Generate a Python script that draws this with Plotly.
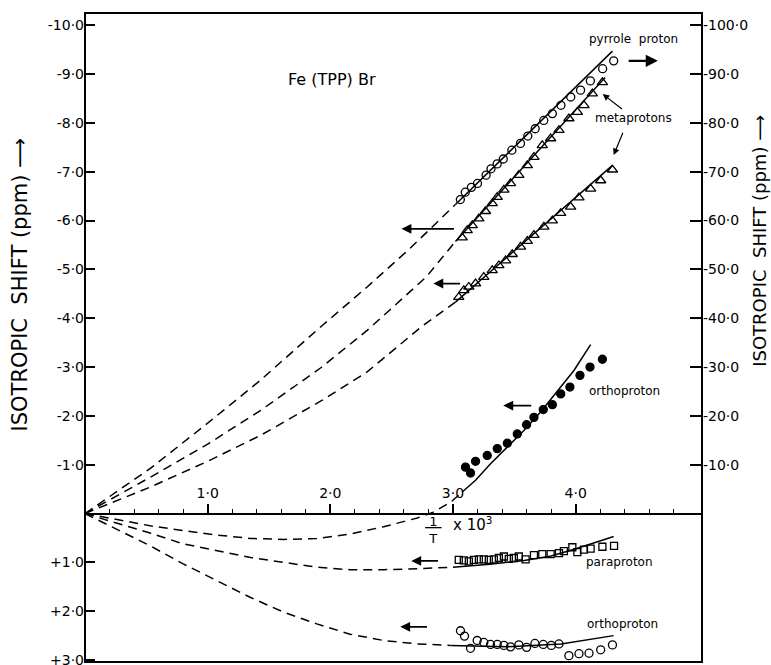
import plotly.graph_objects as go

# ---------------- data (x = 1/T x 10^3) ----------------
# pyrrole proton (right axis, ppm)
pyrrole_x = [3.06, 3.10, 3.15, 3.20, 3.27, 3.31, 3.36, 3.41, 3.48, 3.55,
             3.61, 3.67, 3.74, 3.81, 3.88, 3.96, 4.04, 4.12, 4.22, 4.31]
pyrrole_y = [-64.3, -65.8, -66.8, -67.6, -69.3, -70.6, -71.6, -72.6, -74.4, -75.8,
             -77.3, -78.8, -80.5, -81.9, -83.6, -85.3, -86.7, -88.6, -91.1, -92.7]
pyrrole_fit_x = [3.02, 4.30]
pyrrole_fit_y = [-63.3, -94.7]
pyrrole_ext_x = [0.0, 0.53, 1.0, 1.43, 1.92, 2.30, 2.65, 3.02]
pyrrole_ext_y = [0.0, -9.2, -18.5, -27.3, -38.2, -46.4, -54.3, -63.3]

# metaprotons, first set (left axis, ppm)
meta1_x = [3.075, 3.116, 3.157, 3.211, 3.265, 3.320, 3.361, 3.415, 3.469, 3.537,
           3.606, 3.660, 3.728, 3.796, 3.864, 3.945, 4.014, 4.068, 4.136, 4.218]
meta1_y = [-5.65, -5.80, -5.90, -6.04, -6.19, -6.35, -6.48, -6.63, -6.76, -6.93,
           -7.13, -7.30, -7.54, -7.68, -7.85, -8.09, -8.22, -8.36, -8.60, -8.83]
meta1_fit_x = [3.02, 4.24]
meta1_fit_y = [-5.57, -8.93]
meta1_ext_x = [0.0, 0.53, 1.0, 1.43, 1.92, 2.30, 2.78, 3.02]
meta1_ext_y = [0.0, -0.74, -1.42, -2.11, -2.98, -3.75, -4.84, -5.57]

# metaprotons, second set (left axis, ppm)
meta2_x = [3.047, 3.088, 3.129, 3.184, 3.251, 3.320, 3.374, 3.429, 3.483, 3.551,
           3.606, 3.660, 3.741, 3.810, 3.878, 3.959, 4.027, 4.122, 4.204, 4.300]
meta2_y = [-4.43, -4.57, -4.64, -4.71, -4.84, -4.98, -5.08, -5.18, -5.31, -5.46,
           -5.58, -5.70, -5.87, -6.00, -6.15, -6.28, -6.47, -6.65, -6.82, -7.04]
meta2_fit_x = [3.02, 4.30]
meta2_fit_y = [-4.33, -7.13]
meta2_ext_x = [0.0, 0.53, 1.0, 1.43, 1.92, 2.30, 2.74, 2.98, 3.02]
meta2_ext_y = [0.0, -0.54, -1.07, -1.60, -2.30, -2.90, -3.82, -4.25, -4.33]

# orthoproton, filled circles (left axis, ppm)
ortho1_x = [3.102, 3.143, 3.184, 3.279, 3.361, 3.443, 3.524, 3.600, 3.660, 3.736,
            3.810, 3.878, 3.953, 4.035, 4.117, 4.218]
ortho1_y = [-0.95, -0.83, -1.07, -1.19, -1.33, -1.44, -1.63, -1.82, -1.97, -2.13,
            -2.23, -2.45, -2.59, -2.83, -3.00, -3.16]
ortho1_fit_x = [3.075, 3.184, 3.306, 3.442, 3.578, 3.714, 3.851, 3.986, 4.122]
ortho1_fit_y = [-0.44, -0.68, -1.02, -1.36, -1.70, -2.08, -2.52, -2.93, -3.46]
ortho1_ext_x = [0.0, 0.53, 0.80, 1.075, 1.35, 1.62, 1.89, 2.16, 2.435, 2.71, 2.84, 2.98, 3.075]
ortho1_ext_y = [0.0, 0.25, 0.35, 0.44, 0.51, 0.53, 0.51, 0.42, 0.27, 0.09, -0.03, -0.23, -0.44]

# paraproton, open squares (left axis, ppm)
para_x = [3.047, 3.088, 3.129, 3.170, 3.211, 3.251, 3.292, 3.333, 3.374, 3.415,
          3.455, 3.496, 3.537, 3.592, 3.660, 3.728, 3.796, 3.864, 3.904, 3.973,
          4.014, 4.068, 4.122, 4.218, 4.313]
para_y = [0.95, 0.96, 0.98, 0.95, 0.94, 0.94, 0.95, 0.94, 0.91, 0.88,
          0.93, 0.91, 0.88, 0.94, 0.85, 0.83, 0.83, 0.81, 0.77, 0.69,
          0.79, 0.74, 0.72, 0.68, 0.66]
para_fit_x = [3.0, 3.30, 3.58, 3.80, 3.99, 4.15, 4.31]
para_fit_y = [1.10, 1.04, 0.96, 0.87, 0.73, 0.60, 0.47]
para_ext_x = [0.0, 0.53, 0.80, 1.075, 1.35, 1.62, 1.89, 2.16, 2.435, 2.71, 3.0]
para_ext_y = [0.0, 0.40, 0.62, 0.76, 0.90, 1.00, 1.10, 1.15, 1.15, 1.13, 1.10]

# orthoproton, open circles (left axis, ppm)
ortho2_x = [3.061, 3.094, 3.143, 3.197, 3.251, 3.306, 3.361, 3.415, 3.469, 3.537,
            3.600, 3.668, 3.736, 3.802, 3.864, 3.945, 4.027, 4.109, 4.204, 4.300]
ortho2_y = [2.40, 2.51, 2.76, 2.60, 2.64, 2.68, 2.68, 2.70, 2.73, 2.69,
            2.74, 2.66, 2.68, 2.70, 2.67, 2.91, 2.87, 2.86, 2.79, 2.69]
ortho2_fit_x = [2.98, 3.44, 3.88, 4.10, 4.31]
ortho2_fit_y = [2.70, 2.73, 2.67, 2.59, 2.50]
ortho2_ext_x = [0.0, 0.53, 0.80, 1.075, 1.35, 1.62, 1.89, 2.16, 2.435, 2.71, 2.98]
ortho2_ext_y = [0.0, 0.66, 1.03, 1.37, 1.72, 2.02, 2.26, 2.47, 2.60, 2.67, 2.70]

# axis ticks
x_tickvals = [1, 2, 3, 4]
x_ticktext = ["1·0", "2·0", "3·0", "4·0"]
x_minor = [0.2, 0.4, 0.6, 0.8, 1.2, 1.4, 1.6, 1.8, 2.2, 2.4, 2.6, 2.8,
           3.2, 3.4, 3.6, 3.8, 4.2, 4.4, 4.6, 4.8]
yl_tickvals = [-10, -9, -8, -7, -6, -5, -4, -3, -2, -1, 1, 2, 3]
yl_ticktext = ["-10·0", "-9·0", "-8·0", "-7·0", "-6·0", "-5·0", "-4·0", "-3·0",
               "-2·0", "-1·0", "+1·0", "+2·0", "+3·0"]
yr_tickvals = [-100, -90, -80, -70, -60, -50, -40, -30, -20, -10]
yr_ticktext = ["-100·0", "-90·0", "-80·0", "-70·0", "-60·0", "-50·0", "-40·0",
               "-30·0", "-20·0", "-10·0"]

# ---------------- figure ----------------
FONT = "DejaVu Sans"
fig = go.Figure()
DASH = "9px,6px"
LW = 1.5


def line(x, y, dash=None, yaxis="y"):
    fig.add_trace(go.Scatter(x=x, y=y, mode="lines", yaxis=yaxis,
                             line=dict(color="black", width=LW, dash=dash or "solid"),
                             showlegend=False, hoverinfo="skip"))


def pts(x, y, symbol, size, yaxis="y"):
    fig.add_trace(go.Scatter(x=x, y=y, mode="markers", yaxis=yaxis,
                             marker=dict(symbol=symbol, size=size, color="black",
                                         line=dict(color="black", width=1.3)),
                             showlegend=False))


line(pyrrole_ext_x, pyrrole_ext_y, DASH, "y2")
line(pyrrole_fit_x, pyrrole_fit_y, None, "y2")
pts(pyrrole_x, pyrrole_y, "circle-open", 8, "y2")

line(meta1_ext_x, meta1_ext_y, DASH)
line(meta1_fit_x, meta1_fit_y)
pts(meta1_x, meta1_y, "triangle-up-open", 9)

line(meta2_ext_x, meta2_ext_y, DASH)
line(meta2_fit_x, meta2_fit_y)
pts(meta2_x, meta2_y, "triangle-up-open", 9)

line(ortho1_ext_x, ortho1_ext_y, DASH)
line(ortho1_fit_x, ortho1_fit_y)
pts(ortho1_x, ortho1_y, "circle", 8)

line(para_ext_x, para_ext_y, DASH)
line(para_fit_x, para_fit_y)
pts(para_x, para_y, "square-open", 7)

line(ortho2_ext_x, ortho2_ext_y, DASH)
line(ortho2_fit_x, ortho2_fit_y)
pts(ortho2_x, ortho2_y, "circle-open", 8)

# arrows: (tip x, tip y, tail x, tail y, width)
arrows = [
    (4.67, -9.27, 4.42, -9.27, 2.2),
    (2.58, -5.83, 3.02, -5.83, 1.8),
    (2.84, -4.71, 3.07, -4.71, 1.8),
    (3.41, -2.21, 3.65, -2.21, 1.8),
    (2.66, 0.97, 2.89, 0.97, 1.8),
    (2.57, 2.32, 2.80, 2.32, 1.8),
    (4.22, -8.59, 4.39, -8.26, 1.2),
    (4.31, -7.34, 4.39, -7.83, 1.2),
]
for tx, ty, sx, sy, w in arrows:
    fig.add_annotation(x=tx, y=ty, ax=sx, ay=sy, xref="x", yref="y",
                       axref="x", ayref="y", text="", showarrow=True,
                       arrowhead=2, arrowsize=1.1, arrowwidth=w, arrowcolor="black")

# labels: (text, x, y, size)
labels = [
    ("pyrrole  proton", 4.47, -9.72, 12),
    ("metaprotons", 4.47, -8.10, 12),
    ("orthoproton", 4.40, -2.51, 12),
    ("paraproton", 4.36, 0.99, 12),
    ("orthoproton", 4.38, 2.26, 12),
    ("Fe (TPP) Br", 2.01, -8.88, 16),
    ("<u>&nbsp;1&nbsp;</u><br>T", 2.84, 0.34, 13),
    ("x 10<sup>3</sup>", 3.16, 0.22, 15),
]
for t, x, y, s in labels:
    fig.add_annotation(x=x, y=y, xref="x", yref="y", text=t, showarrow=False,
                       font=dict(family=FONT, size=s, color="black"))

# axis titles
fig.add_annotation(x=-0.105, y=0.582, xref="paper", yref="paper",
                   xanchor="center", yanchor="middle",
                   text="ISOTROPIC  SHIFT (ppm) ⟶", textangle=-90, showarrow=False,
                   font=dict(family=FONT, size=21, color="black"))
fig.add_annotation(x=1.094, y=0.649, xref="paper", yref="paper",
                   xanchor="center", yanchor="middle",
                   text="ISOTROPIC  SHIFT (ppm) ⟶", textangle=-90, showarrow=False,
                   font=dict(family=FONT, size=18, color="black"))

# frame
fig.add_shape(type="rect", xref="paper", yref="paper", x0=0, x1=1, y0=0, y1=1,
              line=dict(color="black", width=2))

fig.update_layout(
    width=771, height=665,
    margin=dict(l=85, r=69, t=13, b=3, autoexpand=False),
    paper_bgcolor="white", plot_bgcolor="white",
    showlegend=False,
    font=dict(family=FONT, size=14, color="black"),
    xaxis=dict(range=[0, 5.03], anchor="free", position=0.2287, side="top",
               automargin=False,
               showgrid=False, zeroline=False, showline=True, linecolor="black",
               linewidth=2, ticks="outside", ticklen=9, tickwidth=1.5,
               tickcolor="black", tickmode="array", tickvals=x_tickvals,
               ticktext=x_ticktext, tickfont=dict(family=FONT, size=14),
               minor=dict(tickmode="array", tickvals=x_minor, ticks="outside",
                          ticklen=4, tickwidth=1.2, tickcolor="black")),
    yaxis=dict(range=[3.04, -10.25], showgrid=False, zeroline=False,
               automargin=False,
               showline=False, ticks="inside", ticklen=10, tickwidth=1.5,
               tickcolor="black", tickmode="array", tickvals=yl_tickvals,
               ticktext=yl_ticktext, tickfont=dict(family=FONT, size=14),
               ticklabeloverflow="allow"),
    yaxis2=dict(range=[30.4, -102.5], overlaying="y", side="right", anchor="x",
                automargin=False,
                showgrid=False, zeroline=False, showline=False, ticks="inside",
                ticklen=12, tickwidth=1.5, tickcolor="black", tickmode="array",
                tickvals=yr_tickvals, ticktext=yr_ticktext,
                tickfont=dict(family=FONT, size=14), ticklabeloverflow="allow"),
)

fig.write_html("out.html")
